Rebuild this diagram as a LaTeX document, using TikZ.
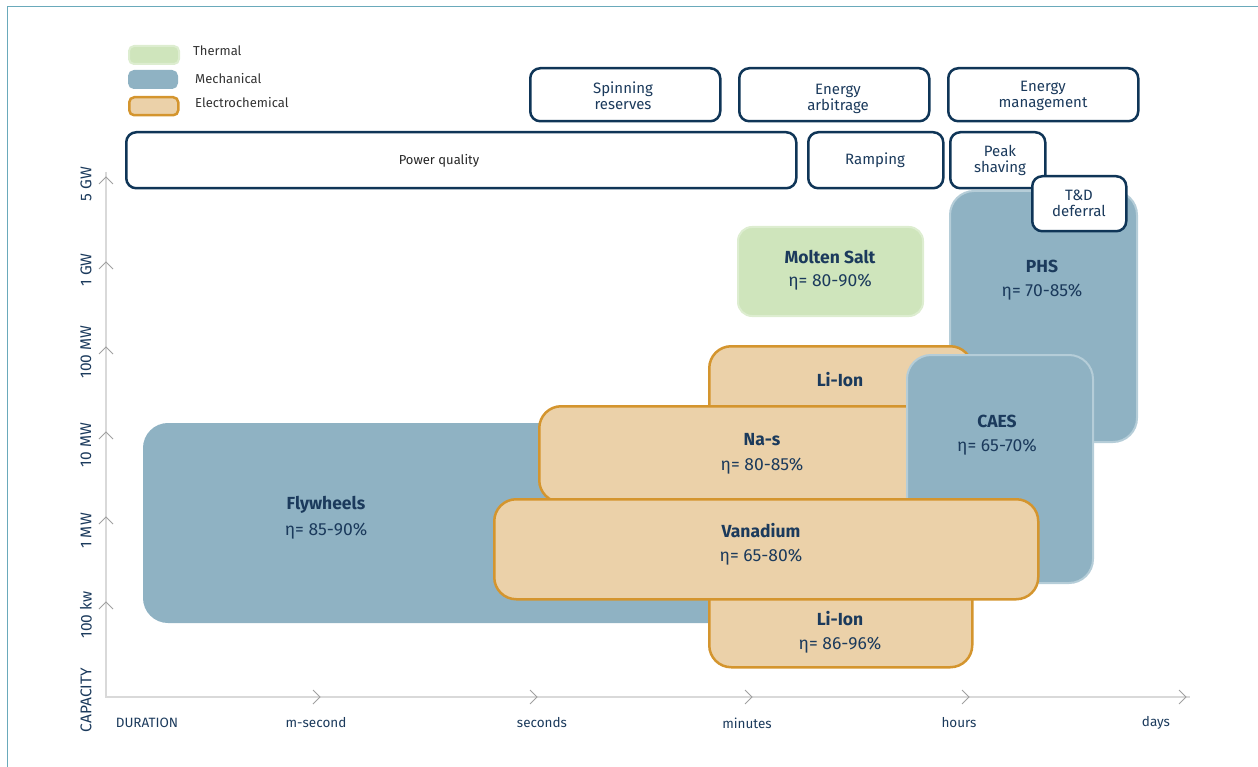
\documentclass[tikz,border=0pt]{standalone}
\usepackage{fontspec}
\setmainfont{Fira Sans}
\definecolor{navy}{HTML}{0F3557}
\definecolor{txt}{HTML}{1B3A5C}
\definecolor{frame}{HTML}{6AAABB}
\definecolor{mech}{HTML}{8FB2C3}
\definecolor{mechb}{HTML}{B5CDD8}
\definecolor{therm}{HTML}{CFE5BC}
\definecolor{thermb}{HTML}{DDEDD0}
\definecolor{elec}{HTML}{EBD1A9}
\definecolor{elecb}{HTML}{D4952E}
\definecolor{axisc}{HTML}{D9D9D9}
\definecolor{chev}{HTML}{A0A0A0}
\begin{document}
\begin{tikzpicture}[x=1pt,y=-1pt,
  usecase/.style={draw=navy, line width=2.5pt, rounded corners=10pt, fill=white, inner sep=0pt, anchor=north west},
  uclab/.style={text=txt, font=\fontsize{15}{16}\selectfont, align=center, inner sep=0pt},
  mechbox/.style={fill=mech, draw=mechb, line width=2pt, rounded corners=24pt, inner sep=0pt, anchor=north west},
  thermbox/.style={fill=therm, draw=thermb, line width=2pt, rounded corners=14pt, inner sep=0pt, anchor=north west},
  elecbox/.style={fill=elec, draw=elecb, line width=2.5pt, rounded corners=22pt, inner sep=0pt, anchor=north west},
  tname/.style={text=txt, font=\bfseries\fontsize{17.5}{19}\selectfont, inner sep=0pt},
  teta/.style={text=txt, font=\fontsize{17.5}{19}\selectfont, inner sep=0pt},
  axlab/.style={text=txt, font=\fontsize{13.5}{14}\selectfont, inner sep=0pt},
  ylab/.style={text=txt, font=\fontsize{15.5}{16}\selectfont, inner sep=0pt, rotate=90},
  leglab/.style={text=black!80, font=\fontsize{13}{14}\selectfont, inner sep=0pt, anchor=west},
  chevron/.style={draw=chev, line width=0.8pt}
]
\useasboundingbox (0,0) rectangle (1258,767);
\draw[frame, line width=1pt] (7,767) -- (7,7) -- (1258,7);

% legend
\node[thermbox, minimum width=50pt, minimum height=18pt, rounded corners=5pt] (lt) at (128,45) {};
\node[mechbox, minimum width=48pt, minimum height=17pt, rounded corners=5pt, draw=mech] (lm) at (128,70) {};
\node[elecbox, minimum width=49pt, minimum height=18pt, rounded corners=5pt] (le) at (128,96) {};
\node[leglab] (ltl) at (193,51) {Thermal};
\node[leglab] (lml) at (195,79) {Mechanical};
\node[leglab] (lel) at (195,103) {Electrochemical};

% axes
\coordinate (origin) at (106,697);
\coordinate (ytop) at (106,172);
\coordinate (xend) at (1190,697);
\draw[axisc, line width=1.6pt] (ytop) -- (origin) -- (xend);
\foreach \yy/\lab/\ly in {177/5 GW/184, 262/1 GW/270, 347/100 MW/352, 432/10 MW/445, 517/1 MW/531, 602/100 kw/615}{
  \draw[chevron] (99,\yy+7) -- (106,\yy) -- (113,\yy+7);
  \node[ylab] at (86,\ly) {\lab};
}
\node[ylab] (caplab) at (86,700) {CAPACITY};
\foreach \xx/\lab/\lx in {320/m-second/316, 537/seconds/542, 752/minutes/747, 969/hours/959, 1186/days/1156}{
  \draw[chevron] (\xx-7,690) -- (\xx,697) -- (\xx-7,704);
  \node[axlab] at (\lx,723) {\lab};
}
\node[axlab] (durlab) at (147,723) {DURATION};

% applications
\node[usecase, minimum width=190pt, minimum height=53pt] (spin) at (529,67) {};
\node[uclab] (spinl) at (623,96) {Spinning\\reserves};
\node[usecase, minimum width=190pt, minimum height=53pt] (arb) at (738,67) {};
\node[uclab] (arbl) at (838,99) {Energy\\arbitrage};
\node[usecase, minimum width=190pt, minimum height=53pt] (mgmt) at (947,67) {};
\node[uclab] (mgmtl) at (1043,96) {Energy\\management};
\node[usecase, minimum width=670pt, minimum height=56pt] (pq) at (125,131) {};
\node[uclab, font=\fontsize{13}{14}\selectfont, text=black!85] (pql) at (439,161) {Power quality};
\node[usecase, minimum width=135pt, minimum height=56pt] (ramp) at (807,131) {};
\node[uclab] (rampl) at (875,160) {Ramping};
\node[usecase, minimum width=95pt, minimum height=56pt] (peak) at (949,131) {};
\node[uclab] (peakl) at (1000,160) {Peak\\shaving};

% PHS
\node[mechbox, minimum width=187pt, minimum height=251pt] (phs) at (949,190) {};
\node[tname] (phsn) at (1042,266) {PHS};
\node[teta] (phse) at (1042,292) {η= 70-85\%};
\node[usecase, minimum width=94pt, minimum height=55pt] (td) at (1031,175) {};
\node[uclab] (tdl) at (1079,203) {T\&D\\deferral};

% Molten salt
\node[thermbox, minimum width=185pt, minimum height=89pt] (salt) at (737,226) {};
\node[tname] (saltn) at (830,257) {Molten Salt};
\node[teta] (salte) at (830,282) {η= 80-90\%};

% Flywheels
\node[mechbox, minimum width=620pt, minimum height=198pt, draw=mech] (fly) at (143,423) {};
\node[tname] (flyn) at (326,505) {Flywheels};
\node[teta] (flye) at (326,531) {η= 85-90\%};

% Li-Ion
\node[elecbox, minimum width=263pt, minimum height=321pt] (li) at (708,345) {};
\node[tname] (lin) at (840,380) {Li-Ion};

% Na-s
\node[elecbox, minimum width=420pt, minimum height=96pt] (nas) at (538,405) {};
\node[tname] (nasn) at (762,440) {Na-s};
\node[teta] (nase) at (762,466) {η= 80-85\%};

% CAES
\node[mechbox, minimum width=186pt, minimum height=228pt] (caes) at (906,354) {};
\node[tname] (caesn) at (997,421) {CAES};
\node[teta] (caese) at (997,447) {η= 65-70\%};

% Vanadium
\node[elecbox, minimum width=544pt, minimum height=100pt] (van) at (493,498) {};
\node[tname] (vann) at (761,531) {Vanadium};
\node[teta] (vane) at (761,557) {η= 65-80\%};

% Li-Ion lower label
\node[tname] (lin2) at (840,619) {Li-Ion};
\node[teta] (lie) at (840,645) {η= 86-96\%};
\end{tikzpicture}
\end{document}
